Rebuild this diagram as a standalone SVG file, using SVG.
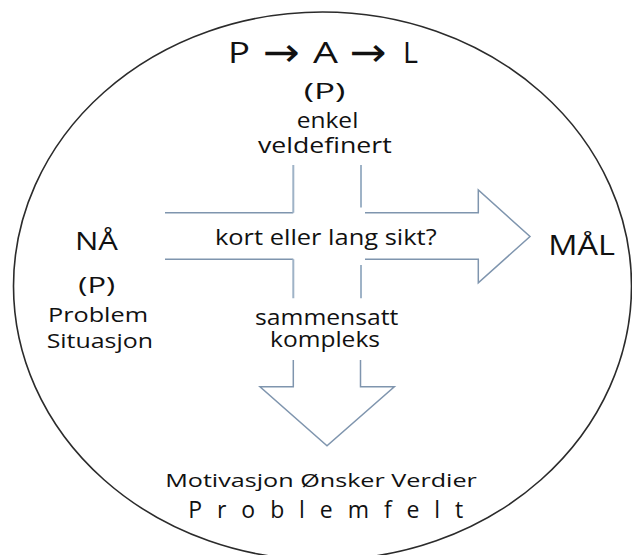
<svg xmlns="http://www.w3.org/2000/svg" width="632" height="555" viewBox="0 0 632 555">
<style>
text{font-family:"Open Sans","DejaVu Sans",sans-serif;fill:#111;text-anchor:middle}
.ar{font-family:"DejaVu Sans",sans-serif}
.arr{fill:none;stroke:#7f95ae;stroke-width:1.5;stroke-linejoin:miter}
.seg{fill:none;stroke:#9fb3c7;stroke-width:2}
.frame{fill:#fff;stroke:#2b2b2b;stroke-width:1.6}
</style>
<rect width="632" height="555" fill="#fff"/>
<g id="field">
<ellipse class="frame" cx="322.5" cy="286" rx="309" ry="274"/>
</g>
<g id="connectors">
<path class="arr" d="M165,212.7 H293.3 M365,212.7 H478.3 V190 L530,236.5 L478.3,282.7 V259.3 H365 M293.3,259.3 H165"/>
<path class="arr" d="M293.3,360 V386.7 H260 L327,445.7 L394.3,386.7 H360.5 V360"/>
<path class="seg" d="M293.3,165 V212.7 M361,165 V207.5 M293.3,259.3 V298.3 M361,265 V298.3"/>
</g>
<g id="title">
<text x="239" y="63.3" font-size="30" textLength="22" lengthAdjust="spacingAndGlyphs">P</text>
<text class="ar" x="281.5" y="66" font-size="40" textLength="37" lengthAdjust="spacingAndGlyphs">→</text>
<text x="325.5" y="63.3" font-size="30" textLength="25" lengthAdjust="spacingAndGlyphs">A</text>
<text class="ar" x="368.3" y="66" font-size="40" textLength="37" lengthAdjust="spacingAndGlyphs">→</text>
<text x="410.5" y="63.3" font-size="30" textLength="15" lengthAdjust="spacingAndGlyphs">L</text>
</g>
<g id="simple">
<text x="324.5" y="99" font-size="21" textLength="41.7" lengthAdjust="spacingAndGlyphs">(P)</text>
<text x="327.5" y="127.7" font-size="21" textLength="61.7" lengthAdjust="spacingAndGlyphs">enkel</text>
<text x="324.8" y="152.7" font-size="21" textLength="133.7" lengthAdjust="spacingAndGlyphs">veldefinert</text>
</g>
<g id="timeframe">
<text x="325.8" y="245" font-size="22" textLength="221.7" lengthAdjust="spacingAndGlyphs">kort eller lang sikt?</text>
</g>
<g id="now">
<text x="96.5" y="250" font-size="26" textLength="43" lengthAdjust="spacingAndGlyphs">NÅ</text>
<text x="96.7" y="293.3" font-size="22" textLength="36.7" lengthAdjust="spacingAndGlyphs">(P)</text>
<text x="98" y="321.7" font-size="20" textLength="100" lengthAdjust="spacingAndGlyphs">Problem</text>
<text x="99.8" y="348.3" font-size="20" textLength="106.3" lengthAdjust="spacingAndGlyphs">Situasjon</text>
</g>
<g id="goal">
<text x="581.7" y="255" font-size="28" textLength="66.7" lengthAdjust="spacingAndGlyphs">MÅL</text>
</g>
<g id="complex">
<text x="326.7" y="325" font-size="21" textLength="143.3" lengthAdjust="spacingAndGlyphs">sammensatt</text>
<text x="325" y="346.7" font-size="21" textLength="110" lengthAdjust="spacingAndGlyphs">kompleks</text>
</g>
<g id="problemfield">
<text x="321" y="486.7" font-size="18" textLength="311.7" lengthAdjust="spacingAndGlyphs">Motivasjon Ønsker Verdier</text>
<text x="325.8" y="518.3" font-size="23" textLength="275" lengthAdjust="spacing">Problemfelt</text>
</g>
</svg>
